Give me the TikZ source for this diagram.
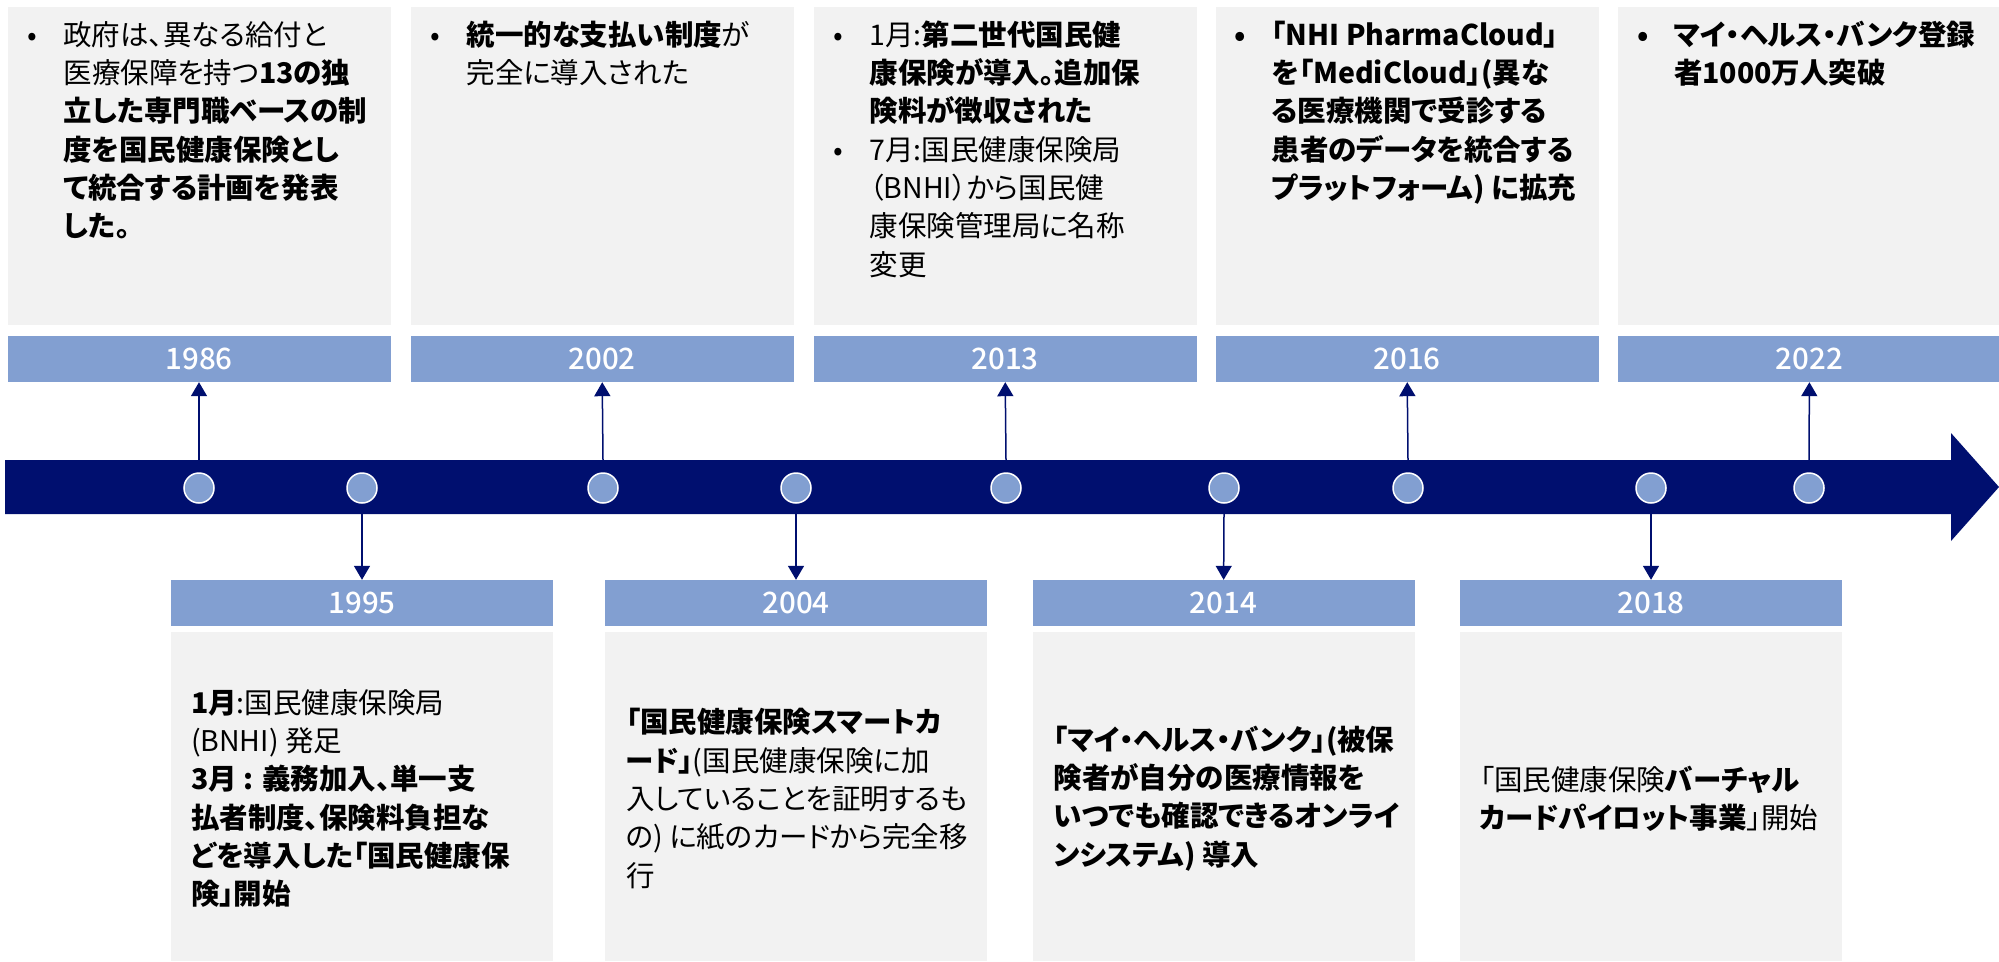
\documentclass[tikz,border=0pt]{standalone}
\usepackage{fontspec}
\setmainfont{Noto Sans CJK JP}[RawFeature=+palt]
\newfontfamily\yearfont{Noto Sans CJK JP Medium}
\usepackage{xcolor}
\usetikzlibrary{arrows.meta,positioning,calc}
\definecolor{navyline}{HTML}{000F6F}
\definecolor{yearblue}{HTML}{829FD1}
\definecolor{boxgray}{HTML}{F2F2F2}
\newcommand{\bulletmark}{\leavevmode\llap{\makebox[0pt]{•}\hspace{31pt}}}

\begin{document}
\begin{tikzpicture}[
    x=1pt,
    y=-1pt,
    font=\fontsize{28.5}{38.3}\selectfont,
    infobox/.style={
        fill=boxgray,
        minimum width=383pt,
        minimum height=318pt,
        inner sep=0pt
    },
    lowbox/.style={
        fill=boxgray,
        minimum width=382pt,
        minimum height=329pt,
        inner sep=0pt
    },
    yearbar/.style={
        fill=yearblue,
        minimum width=383pt,
        minimum height=46pt,
        inner sep=0pt,
        text=white,
        font=\yearfont\fontsize{29.5}{30}\selectfont
    },
    dot/.style={
        circle,
        fill=yearblue,
        draw=white,
        line width=1.5pt,
        minimum size=30pt,
        inner sep=0pt
    },
    txt/.style={inner sep=0pt},
    arr/.style={-{Triangle[width=16pt,length=14pt]}, draw=navyline, line width=1.5pt}
]
\useasboundingbox (0,0) rectangle (1999,961);

% top row
\node[infobox] (box1986) at (199,166) {};
\node[infobox] (box2002) at (602,166) {};
\node[infobox] (box2013) at (1005,166) {};
\node[infobox] (box2016) at (1407,166) {};
\node[infobox] (box2022) at (1809.5,166) {};

\node[yearbar] (y1986) at (199,359) {1986};
\node[yearbar] (y2002) at (602,359) {2002};
\node[yearbar] (y2013) at (1005,359) {2013};
\node[yearbar] (y2016) at (1407,359) {2016};
\node[yearbar] (y2022) at (1809.5,359) {2022};

\node[txt, anchor=base west] (t1986) at ($(box1986.north west)+(56,38.5)$)
{\parbox[t]{420pt}{%
\bulletmark 政府は、異なる給付と\\
医療保障を持つ\textbf{13の独}\\
\textbf{立した専門職ベースの制}\\
\textbf{度を国民健康保険とし}\\
\textbf{て統合する計画を発表}\\
\textbf{した。}}};

\node[txt, anchor=base west] (t2002) at ($(box2002.north west)+(56,38.5)$)
{\parbox[t]{420pt}{%
\bulletmark\textbf{統一的な支払い制度}が\\
完全に導入された}};

\node[txt, anchor=base west] (t2013) at ($(box2013.north west)+(56,38.5)$)
{\parbox[t]{420pt}{%
\bulletmark 1月:\textbf{第二世代国民健}\\
\textbf{康保険が導入。追加保}\\
\textbf{険料が徴収された}\\
\bulletmark 7月:国民健康保険局\\
（BNHI）から国民健\\
康保険管理局に名称\\
変更}};

\node[txt, anchor=base west] (t2016) at ($(box2016.north west)+(56,38.5)$)
{\parbox[t]{420pt}{\bfseries%
\bulletmark「NHI PharmaCloud」\\
を「MediCloud」(異な\\
る医療機関で受診する\\
患者のデータを統合する\\
プラットフォーム) に拡充}};

\node[txt, anchor=base west] (t2022) at ($(box2022.north west)+(56,38.5)$)
{\parbox[t]{420pt}{\bfseries%
\bulletmark マイ・ヘルス・バンク登録\\
者1000万人突破}};

% timeline
\coordinate (axtop) at (0,460);
\coordinate (axbot) at (0,514);

\node[dot] (d1986) at (199,488) {};
\node[dot] (d1995) at (362,488) {};
\node[dot] (d2002) at (603,488) {};
\node[dot] (d2004) at (796,488) {};
\node[dot] (d2013) at (1006,488) {};
\node[dot] (d2014) at (1224,488) {};
\node[dot] (d2016) at (1408,488) {};
\node[dot] (d2018) at (1651,488) {};
\node[dot] (d2022) at (1809,488) {};

% bottom row
\node[yearbar, minimum width=382pt] (y1995) at (362,603) {1995};
\node[yearbar, minimum width=382pt] (y2004) at (796,603) {2004};
\node[yearbar, minimum width=382pt] (y2014) at (1223.5,603) {2014};
\node[yearbar, minimum width=382pt] (y2018) at (1651,603) {2018};

\node[lowbox] (box1995) at (362,796.5) {};
\node[lowbox] (box2004) at (796,796.5) {};
\node[lowbox] (box2014) at (1223.5,796.5) {};
\node[lowbox] (box2018) at (1651,796.5) {};

\node[txt, anchor=west] (t1995) at ($(box1995.west)+(20,2)$)
{\parbox{420pt}{%
\textbf{1月}:国民健康保険局\\
(BNHI) 発足\\
\textbf{3月 : 義務加入、単一支}\\
\textbf{払者制度、保険料負担な}\\
\textbf{どを導入した「国民健康保}\\
\textbf{険」開始}}};

\node[txt, anchor=west] (t2004) at ($(box2004.west)+(21,2)$)
{\parbox{420pt}{%
\textbf{「国民健康保険スマートカ}\\
\textbf{ード」}(国民健康保険に加\\
入していることを証明するも\\
の) に紙のカードから完全移\\
行}};

\node[txt, anchor=west] (t2014) at ($(box2014.west)+(21,2)$)
{\parbox{420pt}{\bfseries%
「マイ・ヘルス・バンク」(被保\\
険者が自分の医療情報を\\
いつでも確認できるオンライ\\
ンシステム) 導入}};

\node[txt, anchor=west] (t2018) at ($(box2018.west)+(20,2)$)
{\parbox{420pt}{%
「国民健康保険\textbf{バーチャル}\\
\textbf{カードパイロット事業}」開始}};

% connectors
\draw[arr] (d1986 |- axtop) -- (y1986);
\draw[arr] (d2002 |- axtop) -- (y2002);
\draw[arr] (d2013 |- axtop) -- (y2013);
\draw[arr] (d2016 |- axtop) -- (y2016);
\draw[arr] (d2022 |- axtop) -- (y2022);
\draw[arr] (d1995 |- axbot) -- (y1995);
\draw[arr] (d2004 |- axbot) -- (y2004);
\draw[arr] (d2014 |- axbot) -- (y2014);
\draw[arr] (d2018 |- axbot) -- (y2018);

% arrow body over the connector ends, dots on top
\fill[navyline] (5,460) -- (1951,460) -- (1951,433) -- (1999,487)
    -- (1951,541) -- (1951,514) -- (5,514) -- cycle;
\foreach \d in {d1986,d1995,d2002,d2004,d2013,d2014,d2016,d2018,d2022}
    \node[dot] at (\d) {};

\end{tikzpicture}
\end{document}
